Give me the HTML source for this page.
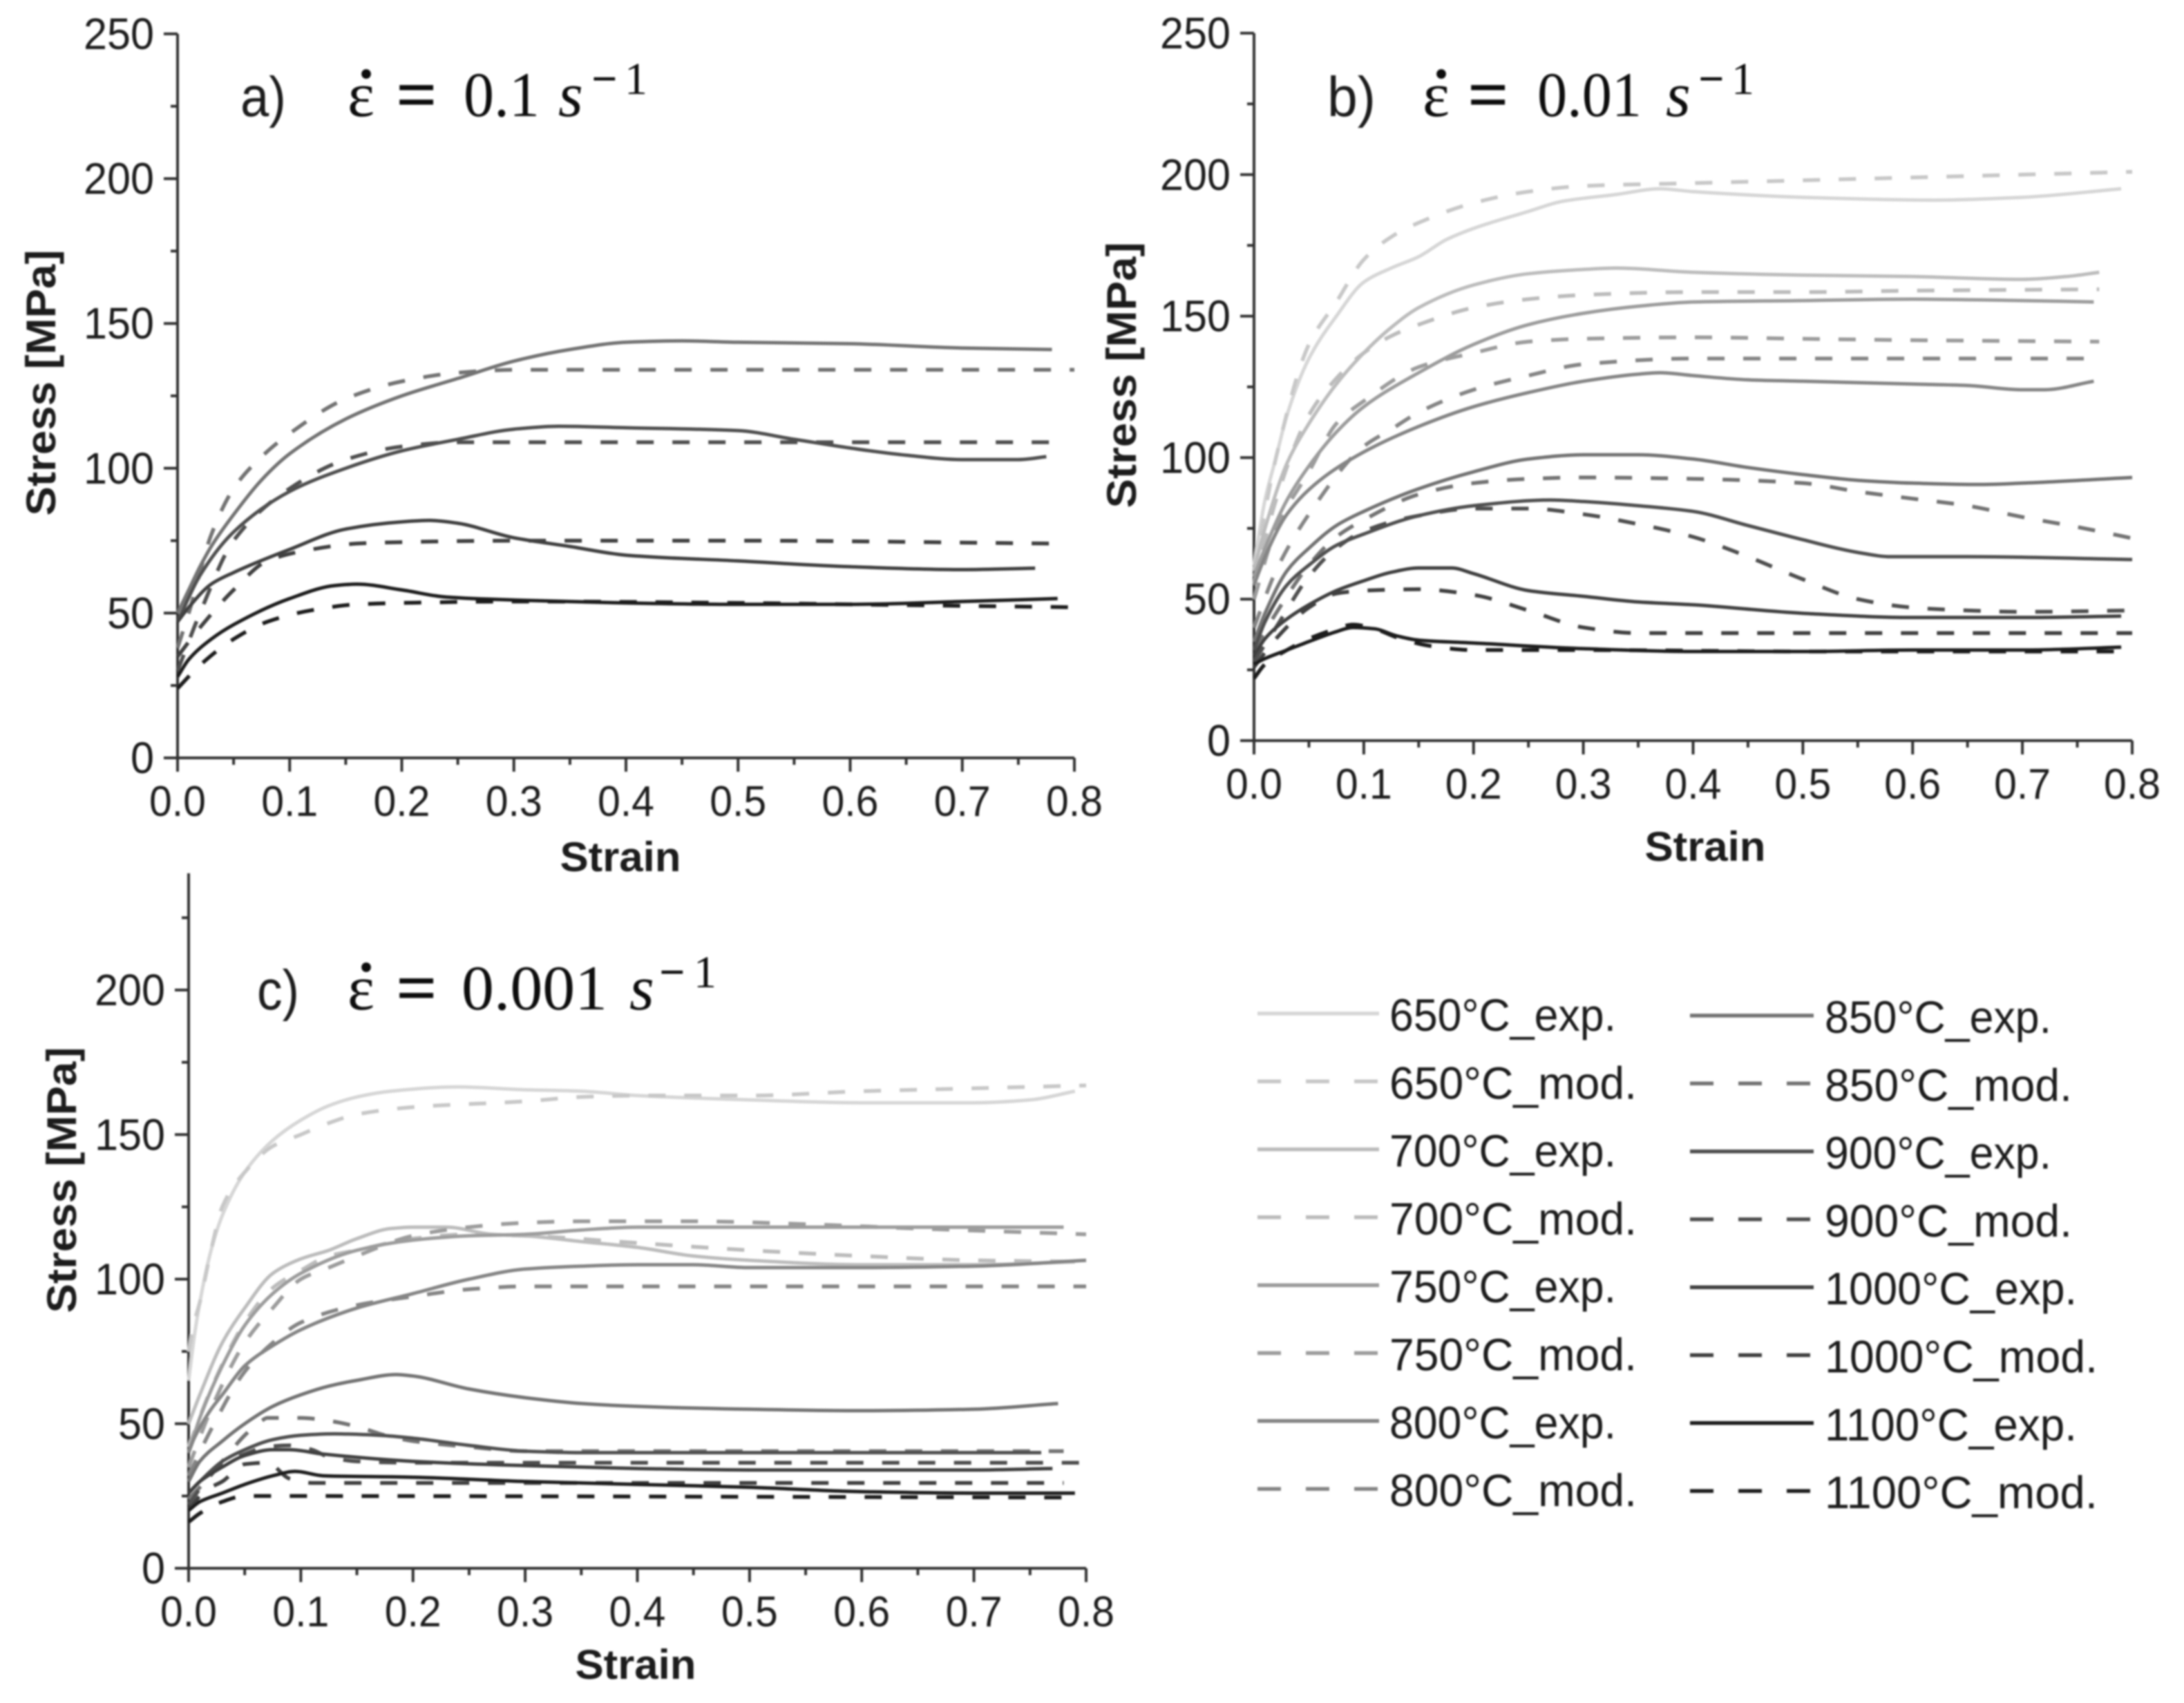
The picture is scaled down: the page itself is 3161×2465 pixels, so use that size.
<!DOCTYPE html>
<html lang="en">
<head>
<meta charset="utf-8">
<title>Stress-strain curves</title>
<style>
  html,body{margin:0;padding:0;background:#fff;}
  svg{display:block;}
  text{font-family:"Liberation Sans",sans-serif;fill:#1c1c1c;}
  .math{font-family:"Liberation Serif",serif;fill:#111;}
</style>
</head>
<body>
<svg id="figure" xmlns="http://www.w3.org/2000/svg" width="3161" height="2465" viewBox="0 0 3161 2465">
  <defs>
    <filter id="soft" filterUnits="userSpaceOnUse" x="0" y="0" width="3161" height="2465">
      <feGaussianBlur stdDeviation="1.2"/>
    </filter>
  </defs>
  <rect x="0" y="0" width="3161" height="2465" fill="#ffffff"/>
  <g id="root" filter="url(#soft)">
    <g>
      <text x="348" y="168" font-size="82" textLength="66" lengthAdjust="spacingAndGlyphs">a)</text>
      <text class="math" x="503" y="168" font-size="92" textLength="39" lengthAdjust="spacingAndGlyphs">ε</text>
      <text class="math" x="530" y="164" font-size="92" font-weight="bold" text-anchor="middle">˙</text>
      <text class="math" x="573" y="172" font-size="105" font-weight="bold">=</text>
      <text class="math" x="671" y="168" font-size="92" textLength="110" lengthAdjust="spacingAndGlyphs">0.1</text>
      <text class="math" x="808" y="168" font-size="92" font-style="italic">s</text>
      <text class="math" x="856" y="136" font-size="66" font-weight="bold">−</text>
      <text class="math" x="904" y="136" font-size="66">1</text>
    </g>
    <g>
      <text x="1921" y="168" font-size="82" textLength="70" lengthAdjust="spacingAndGlyphs">b)</text>
      <text class="math" x="2059" y="168" font-size="92" textLength="39" lengthAdjust="spacingAndGlyphs">ε</text>
      <text class="math" x="2086" y="164" font-size="92" font-weight="bold" text-anchor="middle">˙</text>
      <text class="math" x="2124" y="172" font-size="105" font-weight="bold">=</text>
      <text class="math" x="2225" y="168" font-size="92" textLength="151" lengthAdjust="spacingAndGlyphs">0.01</text>
      <text class="math" x="2411" y="168" font-size="92" font-style="italic">s</text>
      <text class="math" x="2458" y="136" font-size="66" font-weight="bold">−</text>
      <text class="math" x="2506" y="136" font-size="66">1</text>
    </g>
    <g>
      <text x="372" y="1461" font-size="82" textLength="61" lengthAdjust="spacingAndGlyphs">c)</text>
      <text class="math" x="503" y="1461" font-size="92" textLength="39" lengthAdjust="spacingAndGlyphs">ε</text>
      <text class="math" x="530" y="1457" font-size="92" font-weight="bold" text-anchor="middle">˙</text>
      <text class="math" x="573" y="1465" font-size="105" font-weight="bold">=</text>
      <text class="math" x="668" y="1461" font-size="92" textLength="211" lengthAdjust="spacingAndGlyphs">0.001</text>
      <text class="math" x="911" y="1461" font-size="92" font-style="italic">s</text>
      <text class="math" x="954" y="1429" font-size="66" font-weight="bold">−</text>
      <text class="math" x="1004" y="1429" font-size="66">1</text>
    </g>
  </g>
</svg>
<script>
// ---------- tick labels ----------
const xTickLabels = ["0.0","0.1","0.2","0.3","0.4","0.5","0.6","0.7","0.8"];
const yTickLabelsAB = ["0","50","100","150","200","250"];
const yTickLabelsC = ["0","50","100","150","200"];

// ---------- shades per temperature ----------
const temperatures = ["650","700","750","800","850","900","1000","1100"];
const shadesExp = ["#d6d6d6","#bcbcbc","#9c9c9c","#858585","#737373","#505050","#414141","#1f1f1f"];
const shadesMod = ["#c8c8c8","#bcbcbc","#9c9c9c","#858585","#737373","#505050","#414141","#1f1f1f"];

// ---------- panel a (strain, stress) ----------
const a850Exp = [[0,50],[0.01,58],[0.02,66],[0.03,73],[0.05,84],[0.075,96],[0.1,105],[0.15,117],[0.2,125],[0.25,131],[0.3,137],[0.35,141],[0.4,143.5],[0.45,144],[0.5,143.5],[0.6,143],[0.7,141.5],[0.78,141]];
const a850Mod = [[0,38],[0.01,50],[0.03,77],[0.05,93],[0.075,104],[0.1,112],[0.15,124],[0.2,130],[0.25,133],[0.3,134],[0.4,134],[0.8,134]];
const a900Exp = [[0,47],[0.02,63],[0.05,78],[0.1,92],[0.15,100],[0.2,106],[0.25,110],[0.3,113.5],[0.34,114.5],[0.4,114],[0.5,113],[0.55,110],[0.6,107],[0.65,104.5],[0.7,103],[0.75,103],[0.775,104]];
const a900Mod = [[0,30],[0.02,50],[0.05,75],[0.1,93],[0.15,103],[0.2,107.5],[0.25,109],[0.3,109],[0.78,109]];
const a1000Exp = [[0,47],[0.01,52],[0.03,60],[0.05,64],[0.1,72],[0.15,79],[0.2,81.5],[0.225,82],[0.25,81],[0.3,76],[0.35,73],[0.4,70],[0.5,68],[0.6,66],[0.7,65],[0.765,65.5]];
const a1000Mod = [[0,35],[0.02,45],[0.05,58],[0.08,68],[0.12,72],[0.16,74],[0.2,74.5],[0.3,75],[0.5,75],[0.78,74]];
const a1100Exp = [[0,28],[0.01,34],[0.03,41],[0.05,46],[0.1,55],[0.14,59.5],[0.16,60],[0.2,58],[0.24,55.5],[0.3,54.5],[0.4,53.5],[0.5,53],[0.6,53],[0.7,54],[0.785,55]];
const a1100Mod = [[0,24],[0.02,32],[0.05,41],[0.08,47],[0.12,51],[0.16,53],[0.2,53.5],[0.3,54],[0.5,53.5],[0.6,53],[0.8,52]];

// ---------- panel b ----------
const b650Exp = [[0,62],[0.01,85],[0.02,100],[0.03,115],[0.05,135],[0.075,150],[0.1,162],[0.125,167],[0.15,171],[0.175,177],[0.2,181],[0.25,187],[0.28,190.5],[0.33,193],[0.37,195],[0.4,194],[0.5,192],[0.62,191],[0.7,192],[0.79,195]];
const b650Mod = [[0,60],[0.02,100],[0.05,140],[0.075,155],[0.1,170],[0.125,178],[0.15,183],[0.2,190],[0.25,194],[0.3,196],[0.4,197],[0.5,198],[0.6,199],[0.7,200],[0.8,201]];
const b700Exp = [[0,60],[0.01,75],[0.03,98],[0.05,112],[0.075,126],[0.1,137],[0.125,146],[0.15,153],[0.2,161],[0.25,165],[0.3,166.5],[0.33,167],[0.4,165.5],[0.5,164.5],[0.6,164],[0.7,163],[0.74,164],[0.77,165.5]];
const b700Mod = [[0,55],[0.02,85],[0.05,115],[0.075,128],[0.1,137],[0.125,143],[0.15,147],[0.2,153],[0.25,156],[0.3,157.5],[0.4,158.5],[0.5,158.5],[0.6,159],[0.77,159.5]];
const b750Exp = [[0,58],[0.01,68],[0.03,85],[0.05,97],[0.075,109],[0.1,118],[0.15,130],[0.2,140],[0.25,147],[0.3,151],[0.35,153.5],[0.4,155],[0.5,155.5],[0.6,156],[0.7,155.5],[0.765,155]];
const b750Mod = [[0,50],[0.02,75],[0.05,95],[0.075,112],[0.1,120],[0.15,132],[0.2,137],[0.25,141],[0.3,142],[0.4,142.5],[0.5,142],[0.6,141.5],[0.77,141]];
const b800Exp = [[0,55],[0.01,65],[0.03,80],[0.06,92],[0.1,102],[0.15,111],[0.2,118],[0.25,123],[0.3,127],[0.35,129.5],[0.37,130],[0.4,129],[0.45,127.5],[0.5,127],[0.6,126],[0.65,125.5],[0.7,124],[0.72,124],[0.765,127]];
const b800Mod = [[0,40],[0.02,60],[0.05,80],[0.1,104],[0.125,110],[0.15,116],[0.2,124],[0.25,129],[0.3,133],[0.4,135],[0.5,135],[0.77,135]];
const b850Exp = [[0,35],[0.01,45],[0.03,60],[0.05,68],[0.075,76],[0.1,81],[0.15,89],[0.2,95],[0.25,99.5],[0.3,101],[0.35,101],[0.4,99.5],[0.45,96.5],[0.5,94],[0.55,92],[0.6,91],[0.66,90.5],[0.7,91],[0.8,93]];
const b850Mod = [[0,32],[0.02,45],[0.05,62],[0.075,72],[0.1,78],[0.15,87],[0.2,91],[0.25,92.5],[0.3,93],[0.4,92.5],[0.5,91],[0.55,88],[0.6,85.5],[0.65,83],[0.7,79],[0.75,75.5],[0.8,71.5]];
const b900Exp = [[0,32],[0.01,42],[0.03,55],[0.05,62],[0.075,69],[0.1,73],[0.15,79.5],[0.2,83],[0.27,85],[0.3,84.5],[0.35,83],[0.4,81],[0.45,76],[0.5,71],[0.55,66.5],[0.58,65],[0.65,65],[0.8,64]];
const b900Mod = [[0,28],[0.02,40],[0.05,58],[0.075,68],[0.1,74],[0.15,79.5],[0.2,82],[0.25,82],[0.3,80],[0.35,76.5],[0.4,72],[0.45,65],[0.5,57],[0.55,50],[0.6,47],[0.65,46],[0.7,45.5],[0.8,46]];
const b1000Exp = [[0,30],[0.01,36],[0.03,43],[0.05,48],[0.075,53],[0.1,56.5],[0.125,59.5],[0.15,61],[0.18,61],[0.2,59],[0.25,53],[0.3,51],[0.35,49],[0.4,48],[0.5,45],[0.6,43.5],[0.7,43.5],[0.79,44]];
const b1000Mod = [[0,26],[0.02,36],[0.05,47],[0.075,52],[0.1,53],[0.15,53.5],[0.2,51.5],[0.25,46],[0.3,40],[0.35,38],[0.4,38],[0.8,38]];
const b1100Exp = [[0,27],[0.01,29],[0.03,32],[0.05,35],[0.075,38.5],[0.09,40],[0.11,39.5],[0.13,37],[0.15,35.5],[0.2,34.5],[0.3,32.5],[0.4,31.5],[0.5,31.5],[0.6,32],[0.7,32],[0.79,33]];
const b1100Mod = [[0,22],[0.01,27],[0.03,32],[0.05,36],[0.075,39.5],[0.09,41],[0.11,39.5],[0.13,36.5],[0.16,33.5],[0.2,32],[0.3,32],[0.5,31.5],[0.8,31.5]];

// ---------- panel c ----------
const c650Exp = [[0,65],[0.005,80],[0.01,92],[0.02,110],[0.03,122],[0.05,137],[0.075,148],[0.1,155],[0.125,160],[0.15,163],[0.18,165],[0.24,166.5],[0.3,165.5],[0.35,165],[0.4,163.5],[0.5,162],[0.6,161],[0.7,161],[0.75,162],[0.79,165]];
const c650Mod = [[0,75],[0.005,85],[0.01,92],[0.02,110],[0.03,125],[0.05,137],[0.075,146],[0.1,150],[0.125,154],[0.15,157],[0.2,159.5],[0.3,161.5],[0.35,163],[0.4,163.5],[0.5,163.5],[0.6,165],[0.7,166],[0.8,167]];
const c700Exp = [[0,50],[0.01,60],[0.03,78],[0.05,90],[0.075,102],[0.1,107],[0.125,110],[0.15,114],[0.18,117.5],[0.2,118],[0.23,118],[0.27,115.5],[0.3,115],[0.35,113],[0.4,111],[0.45,108],[0.5,106.5],[0.6,105],[0.7,105],[0.79,106]];
const c700Mod = [[0,42],[0.02,62],[0.05,85],[0.075,97],[0.1,103],[0.125,108],[0.15,110],[0.2,114],[0.25,115.5],[0.3,115],[0.4,112.5],[0.5,110],[0.6,108],[0.7,106.5],[0.8,106]];
const c750Exp = [[0,40],[0.01,52],[0.03,70],[0.05,84],[0.075,95],[0.1,102],[0.15,110],[0.2,113.5],[0.25,115],[0.3,115.5],[0.35,117],[0.4,118],[0.5,118],[0.6,118],[0.7,118],[0.78,118]];
const c750Mod = [[0,35],[0.02,55],[0.05,78],[0.075,90],[0.1,100],[0.125,104],[0.15,108],[0.2,115],[0.25,118],[0.3,119.5],[0.35,120],[0.45,120],[0.55,119],[0.65,117.5],[0.8,115.5]];
const c800Exp = [[0,40],[0.005,45],[0.02,55],[0.03,60],[0.05,70],[0.075,77],[0.1,82.5],[0.15,90],[0.2,95],[0.25,100],[0.3,103.5],[0.35,104.5],[0.4,105],[0.45,105],[0.5,104],[0.6,104],[0.7,104.5],[0.8,106.5]];
const c800Mod = [[0,32],[0.02,48],[0.05,68],[0.075,78],[0.1,85],[0.15,91],[0.2,94],[0.25,96.5],[0.3,97.5],[0.4,97.5],[0.8,97.5]];
const c850Exp = [[0,30],[0.01,37],[0.03,44],[0.05,50],[0.075,56],[0.1,60],[0.125,63],[0.15,65],[0.185,67],[0.2,66.5],[0.25,62],[0.3,59],[0.35,57],[0.4,56],[0.5,55],[0.6,54.5],[0.7,55],[0.775,57]];
const c850Mod = [[0,24],[0.01,28],[0.03,37],[0.05,46],[0.065,51],[0.07,52],[0.1,52],[0.125,51],[0.15,49],[0.175,46],[0.2,44],[0.25,42],[0.3,40.5],[0.4,40.5],[0.78,40.5]];
const c900Exp = [[0,26],[0.01,30],[0.03,37],[0.05,41],[0.075,44.5],[0.1,46],[0.13,46.5],[0.17,46],[0.2,45],[0.25,42.5],[0.3,40.5],[0.35,40],[0.5,40],[0.6,40],[0.76,40]];
const c900Mod = [[0,22],[0.015,30],[0.03,36],[0.05,39.5],[0.07,42],[0.09,42.5],[0.11,41],[0.125,38.5],[0.15,37],[0.2,36.5],[0.3,36.5],[0.8,36.5]];
const c1000Exp = [[0,26],[0.01,30],[0.03,35],[0.05,39],[0.075,41],[0.09,41],[0.12,39.5],[0.2,37],[0.3,35.5],[0.4,34.5],[0.5,34],[0.6,34],[0.7,34],[0.77,34.5]];
const c1000Mod = [[0,20],[0.015,27],[0.03,30],[0.05,36],[0.07,36.5],[0.09,31],[0.11,29.5],[0.2,29.5],[0.3,29.5],[0.78,29.5]];
const c1100Exp = [[0,20],[0.01,23],[0.03,26],[0.05,29],[0.075,32],[0.095,33.5],[0.12,32],[0.2,31.5],[0.3,30],[0.4,29],[0.5,28],[0.6,26.5],[0.7,26],[0.79,26]];
const c1100Mod = [[0,16],[0.01,19],[0.03,23],[0.05,25],[0.06,25],[0.78,24.5]];

const NS = 'http://www.w3.org/2000/svg';
const root = document.getElementById('root');

function make(tag, parent, attrs, txt) {
  const el = document.createElementNS(NS, tag);
  for (const k in attrs) el.setAttribute(k, attrs[k]);
  if (txt !== undefined) el.textContent = txt;
  parent.appendChild(el);
  return el;
}

// Monotone cubic path through points already in pixel space
function smoothPath(pts) {
  const n = pts.length;
  const dx = [], m = [], t = [];
  for (let i = 0; i < n - 1; i++) {
    dx[i] = pts[i + 1][0] - pts[i][0];
    m[i] = (pts[i + 1][1] - pts[i][1]) / dx[i];
  }
  t[0] = m[0];
  t[n - 1] = m[n - 2];
  for (let i = 1; i < n - 1; i++) {
    if (m[i - 1] * m[i] <= 0) t[i] = 0;
    else t[i] = 3 * (dx[i - 1] + dx[i]) / ((2 * dx[i] + dx[i - 1]) / m[i - 1] + (dx[i] + 2 * dx[i - 1]) / m[i]);
  }
  let d = 'M' + pts[0][0].toFixed(1) + ' ' + pts[0][1].toFixed(1);
  for (let i = 0; i < n - 1; i++) {
    const h = dx[i] / 3;
    d += 'C' + (pts[i][0] + h).toFixed(1) + ' ' + (pts[i][1] + t[i] * h).toFixed(1) + ' ' +
      (pts[i + 1][0] - h).toFixed(1) + ' ' + (pts[i + 1][1] - t[i + 1] * h).toFixed(1) + ' ' +
      pts[i + 1][0].toFixed(1) + ' ' + pts[i + 1][1].toFixed(1);
  }
  return d;
}

function drawPanel(cfg) {
  const sx = v => cfg.x0 + (v / 0.8) * (cfg.x8 - cfg.x0);
  const sy = v => cfg.y0 - (v / 50) * cfg.per50;
  const g = make('g', root, {});
  
  

  // axes
  const yAxis = make('line', g, {x1: cfg.x0, x2: cfg.x0, y1: cfg.y0, y2: cfg.topY, stroke: '#333', 'stroke-width': 4});
  
  
  const xAxis = make('line', g, {x1: cfg.x0 - 20, x2: cfg.x8, y1: cfg.y0, y2: cfg.y0, stroke: '#333', 'stroke-width': 4});
  
  

  // x ticks
  xTickLabels.forEach((lab, i) => {
    const v = parseFloat(lab);
    const x = sx(v);
    make('line', g, {x1: x, x2: x, y1: cfg.y0, y2: cfg.y0 + 20, stroke: '#333', 'stroke-width': 4});
    if (i < xTickLabels.length - 1) {
      const xm = sx(v + 0.05);
      make('line', g, {x1: xm, x2: xm, y1: cfg.y0, y2: cfg.y0 + 10, stroke: '#333', 'stroke-width': 4});
    }
    const t = make('text', g, {x: x, y: cfg.y0 + 84, 'font-size': 62, 'text-anchor': 'middle', textLength: 82, lengthAdjust: 'spacingAndGlyphs'}, lab);
    
    
  });

  // y ticks
  cfg.yLabels.forEach(lab => {
    const v = parseFloat(lab);
    const y = sy(v);
    make('line', g, {x1: cfg.x0 - 20, x2: cfg.x0, y1: y, y2: y, stroke: '#333', 'stroke-width': 4});
    if (v + 25 <= cfg.minorMax) {
      const ym = sy(v + 25);
      make('line', g, {x1: cfg.x0 - 10, x2: cfg.x0, y1: ym, y2: ym, stroke: '#333', 'stroke-width': 4});
    }
    const t = make('text', g, {x: cfg.x0 - 34, y: y + 22, 'font-size': 64, 'text-anchor': 'end', textLength: lab.length * 34, lengthAdjust: 'spacingAndGlyphs'}, lab);
    
    
  });

  // axis titles
  const xt = make('text', g, {x: cfg.xTitleX, y: cfg.xTitleY, 'font-size': 60, 'font-weight': 'bold', 'text-anchor': 'middle', textLength: 175, lengthAdjust: 'spacingAndGlyphs'}, 'Strain');
  
  
  const yt = make('text', g, {transform: 'translate(' + cfg.yTitleX + ' ' + cfg.yTitleY + ') rotate(-90)', 'font-size': 60, 'font-weight': 'bold', 'text-anchor': 'middle', textLength: 385, lengthAdjust: 'spacingAndGlyphs'}, 'Stress [MPa]');
  
  

  // series
  cfg.series.forEach(s => {
    const idx = temperatures.indexOf(s.temp);
    const d = smoothPath(s.values.map(p => [sx(p[0]), sy(p[1])]));
    const attrs = {d: d, fill: 'none', stroke: s.dash ? shadesMod[idx] : shadesExp[idx], 'stroke-width': s.dash ? 5.5 : 5};
    if (s.dash) attrs['stroke-dasharray'] = '25 27';
    const path = make('path', g, attrs);
    
    
  });
}

drawPanel({id: 'a', x0: 257, x8: 1555, y0: 1097, per50: 209.6, topY: 49, minorMax: 225, yLabels: yTickLabelsAB,
  xTitleX: 898, xTitleY: 1261, yTitleX: 80, yTitleY: 554,
  series: [
    {temp: '850', values: a850Exp}, {temp: '850', values: a850Mod, dash: true},
    {temp: '900', values: a900Exp}, {temp: '900', values: a900Mod, dash: true},
    {temp: '1000', values: a1000Exp}, {temp: '1000', values: a1000Mod, dash: true},
    {temp: '1100', values: a1100Exp}, {temp: '1100', values: a1100Mod, dash: true}
  ]});

drawPanel({id: 'b', x0: 1815, x8: 3086, y0: 1072, per50: 204.8, topY: 48, minorMax: 225, yLabels: yTickLabelsAB,
  xTitleX: 2468, xTitleY: 1246, yTitleX: 1644, yTitleY: 543,
  series: [
    {temp: '650', values: b650Exp}, {temp: '650', values: b650Mod, dash: true},
    {temp: '700', values: b700Exp}, {temp: '700', values: b700Mod, dash: true},
    {temp: '750', values: b750Exp}, {temp: '750', values: b750Mod, dash: true},
    {temp: '800', values: b800Exp}, {temp: '800', values: b800Mod, dash: true},
    {temp: '850', values: b850Exp}, {temp: '850', values: b850Mod, dash: true},
    {temp: '900', values: b900Exp}, {temp: '900', values: b900Mod, dash: true},
    {temp: '1000', values: b1000Exp}, {temp: '1000', values: b1000Mod, dash: true},
    {temp: '1100', values: b1100Exp}, {temp: '1100', values: b1100Mod, dash: true}
  ]});

drawPanel({id: 'c', x0: 273, x8: 1572, y0: 2270, per50: 209.25, topY: 1264, minorMax: 225, yLabels: yTickLabelsC,
  xTitleX: 920, xTitleY: 2430, yTitleX: 110, yTitleY: 1708,
  series: [
    {temp: '650', values: c650Exp}, {temp: '650', values: c650Mod, dash: true},
    {temp: '700', values: c700Exp}, {temp: '700', values: c700Mod, dash: true},
    {temp: '750', values: c750Exp}, {temp: '750', values: c750Mod, dash: true},
    {temp: '800', values: c800Exp}, {temp: '800', values: c800Mod, dash: true},
    {temp: '850', values: c850Exp}, {temp: '850', values: c850Mod, dash: true},
    {temp: '900', values: c900Exp}, {temp: '900', values: c900Mod, dash: true},
    {temp: '1000', values: c1000Exp}, {temp: '1000', values: c1000Mod, dash: true},
    {temp: '1100', values: c1100Exp}, {temp: '1100', values: c1100Mod, dash: true}
  ]});

// ---------- legend ----------
const legendG = make('g', root, {});


temperatures.forEach((temp, i) => {
  const col = i < 4 ? 0 : 1;
  const rowBase = (i % 4) * 2;
  const lineX1 = col === 0 ? 1820 : 2446;
  const lineX2 = col === 0 ? 1996 : 2625;
  const textX = col === 0 ? 2011 : 2641;
  const yOff = col === 0 ? 0 : 3;
  [false, true].forEach((isMod, j) => {
    const y = 1467 + (rowBase + j) * 98.3 + yOff;
    const entry = make('g', legendG, {});
    
    
    const attrs = {x1: lineX1, x2: lineX2, y1: y, y2: y, stroke: isMod ? shadesMod[i] : shadesExp[i], 'stroke-width': 5.5};
    if (isMod) attrs['stroke-dasharray'] = '34 36';
    make('line', entry, attrs);
    const label = temp + '°C_' + (isMod ? 'mod.' : 'exp.');
    const digitW = temp.length === 4 ? 365 : 328;
    const w = isMod ? digitW + 30 : digitW;
    make('text', entry, {x: textX, y: y + 25, 'font-size': 66, textLength: w, lengthAdjust: 'spacingAndGlyphs'}, label);
  });
});
</script>
</body>
</html>
